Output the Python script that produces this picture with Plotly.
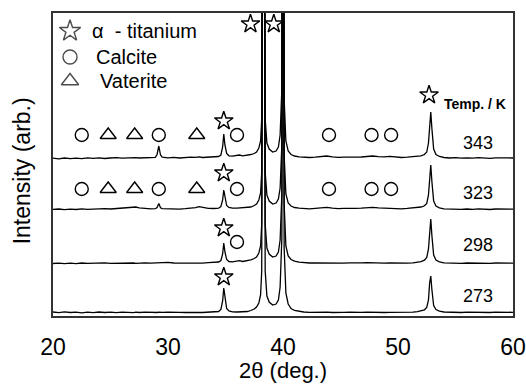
import plotly.graph_objects as go

# ---------------- data ----------------
two_theta = [
    20.0, 20.5, 21.0, 21.5, 22.0, 22.5, 23.0, 23.5, 24.0, 24.5, 25.0, 25.5, 26.0, 26.5,
    26.8, 27.0, 27.2, 27.5, 28.0, 28.5,
    28.9, 29.05, 29.2, 29.35, 29.5,
    30.0, 30.5, 31.0, 31.5, 32.0, 32.4, 32.7, 33.0, 33.5, 34.0,
    34.4, 34.6, 34.75, 34.85, 34.95, 35.1, 35.3, 35.6,
    36.0, 36.2, 36.5, 36.9, 37.2, 37.5,
    37.7, 37.9, 38.05, 38.15, 38.3, 38.45, 38.6, 38.8, 39.1, 39.4, 39.6, 39.75, 39.9, 40.0, 40.1, 40.25, 40.45, 40.7, 41.0, 41.4,
    41.8, 42.3, 42.8, 43.3, 43.8, 44.3, 44.8, 45.3, 45.8, 46.3, 46.8, 47.3, 47.8, 48.3, 48.8, 49.3, 49.8, 50.3, 50.8, 51.3, 51.7,
    52.0, 52.3, 52.5, 52.65, 52.75, 52.85, 52.95, 53.1, 53.3, 53.6, 54.0,
    54.5, 55.0, 55.5, 56.0, 56.5, 57.0, 57.5, 58.0, 58.5, 59.0, 59.5, 60.0,
]

temps = ["343", "323", "298", "273"]
offsets = [157, 106, 52, 3]

int_343 = [
    0.8, 0.2, 1.0, 0.4, 0.9, 0.3, 1.1, 0.6, 1.2, 0.5, 1.0, 1.4, 0.8, 1.2,
    1.5, 1.8, 1.3, 1.0, 1.4, 1.2,
    1.6, 4.5, 13.0, 4.0, 1.8,
    1.2, 1.6, 1.0, 1.5, 1.8, 1.6, 2.2, 1.5, 1.9, 2.2,
    2.5, 4.0, 12.0, 25.0, 14.0, 5.5, 3.2, 2.8,
    3.5, 4.0, 3.2, 3.8, 4.5, 5.5,
    7.0, 11.0, 18.0, 40.0, 800.0, 40.0, 16.0, 10.0, 7.0, 8.0, 12.0, 24.0, 70.0, 800.0, 60.0, 18.0, 8.0, 4.5, 3.0, 2.2,
    1.8, 1.5, 1.9, 2.3, 3.0, 2.2, 1.6, 1.9, 1.5, 1.8, 2.0, 2.6, 3.0, 2.4, 2.1, 2.6, 1.8, 1.5, 1.9, 2.2, 2.6,
    3.2, 4.5, 7.0, 16.0, 38.0, 47.0, 30.0, 10.0, 4.5, 2.5, 1.5,
    1.0, 1.3, 0.8, 1.2, 0.9, 1.4, 1.0, 0.7, 1.2, 0.9, 1.3, 1.0,
]

int_323 = [
    0.6, 1.0, 0.3, 0.9, 0.5, 1.2, 0.7, 1.0, 0.6, 1.3, 1.0, 1.5, 1.8, 2.2,
    2.8, 3.4, 3.0, 2.2, 1.4, 1.2,
    1.3, 2.5, 6.5, 2.2, 1.3,
    1.0, 1.4, 0.9, 1.3, 1.6, 2.4, 3.4, 2.6, 1.6, 1.5,
    1.8, 3.5, 10.0, 20.0, 12.0, 4.5, 2.5, 1.8,
    1.8, 2.0, 1.6, 2.2, 3.0, 4.5,
    6.0, 10.0, 17.0, 38.0, 800.0, 38.0, 15.0, 9.0, 6.0, 7.0, 11.0, 22.0, 65.0, 800.0, 55.0, 16.0, 7.0, 4.0, 2.5, 1.8,
    1.5, 1.2, 1.6, 1.9, 2.6, 1.9, 1.4, 1.7, 1.3, 1.6, 1.8, 2.2, 2.6, 2.1, 1.8, 2.0, 1.5, 1.2, 1.6, 1.9, 2.3,
    3.0, 4.2, 6.5, 15.0, 36.0, 45.0, 28.0, 9.0, 4.0, 2.2, 1.2,
    0.8, 1.1, 0.6, 1.0, 0.7, 1.2, 0.8, 0.5, 1.0, 0.7, 1.1, 0.8,
]

int_298 = [
    0.5, 0.9, 0.3, 0.8, 0.4, 1.0, 0.6, 0.9, 0.5, 1.1, 0.7, 0.9, 0.6, 1.0,
    0.8, 1.0, 0.7, 0.9, 1.2, 0.8,
    1.0, 0.9, 1.1, 0.8, 1.0,
    1.6, 1.0, 0.9, 1.2, 0.8, 1.0, 1.2, 0.9, 1.3, 1.6,
    2.0, 3.5, 10.0, 21.0, 12.0, 4.5, 2.5, 2.2,
    2.8, 3.4, 2.5, 3.2, 4.2, 5.5,
    7.0, 11.0, 18.0, 40.0, 800.0, 40.0, 16.0, 10.0, 7.0, 8.0, 12.0, 24.0, 70.0, 800.0, 60.0, 18.0, 8.0, 4.5, 2.8, 1.8,
    1.3, 1.0, 1.2, 1.0, 1.3, 0.9, 1.1, 0.8, 1.2, 0.9, 1.1, 1.3, 1.0, 1.2, 0.9, 1.1, 0.8, 1.0, 0.9, 1.2, 1.6,
    2.4, 3.8, 6.5, 15.0, 36.0, 45.0, 28.0, 9.0, 4.0, 2.2, 1.2,
    0.9, 1.1, 0.7, 1.0, 0.8, 1.1, 0.9, 0.6, 1.0, 0.8, 1.1, 0.9,
]

int_273 = [
    1.0, 0.3, 1.2, 0.5, 0.9, 0.2, 0.8, 0.4, 1.0, 0.5, 0.8, 0.3, 0.9, 0.5,
    0.7, 0.4, 0.8, 0.5, 0.9, 0.4,
    0.7, 0.5, 0.8, 0.4, 0.6,
    0.8, 0.4, 0.7, 0.5, 0.8, 0.4, 0.7, 0.5, 0.8, 1.0,
    1.5, 3.5, 12.0, 25.0, 14.0, 4.5, 2.0, 1.2,
    1.0, 1.2, 1.0, 1.5, 2.5, 4.0,
    6.0, 10.0, 18.0, 42.0, 800.0, 42.0, 17.0, 11.0, 8.0, 9.0, 13.0, 26.0, 75.0, 800.0, 65.0, 20.0, 9.0, 4.5, 2.5, 1.5,
    1.0, 0.7, 0.9, 0.6, 0.8, 0.5, 0.9, 0.6, 0.8, 0.5, 0.7, 0.9, 0.6, 0.8, 0.5, 0.7, 0.6, 0.8, 0.5, 0.9, 1.4,
    2.0, 3.2, 5.5, 13.0, 30.0, 37.0, 23.0, 7.5, 3.5, 1.8, 1.0,
    0.7, 0.9, 0.5, 0.8, 0.6, 0.9, 0.7, 0.5, 0.8, 0.6, 0.9, 0.7,
]

intensities = [int_343, int_323, int_298, int_273]

# phase marker positions (2theta, height in plot units)
ti_star_x = [34.85, 37.17, 39.2, 52.7, 34.85, 34.85, 34.85]
ti_star_y = [195, 292, 292, 221, 143, 88, 39]
calcite_x = [22.5, 29.2, 36.0, 44.0, 47.7, 49.4, 22.5, 29.2, 36.0, 44.0, 47.7, 49.4, 36.0]
calcite_y = [181, 181, 181, 181, 181, 181, 127, 127, 127, 127, 127, 127, 74]
vaterite_x = [24.8, 27.1, 32.5, 24.8, 27.1, 32.5]
vaterite_y = [181, 181, 181, 127, 127, 127]

legend_labels = ["α  - titanium", "Calcite", "Vaterite"]
temp_label_y = [173, 123, 71, 20]

# ---------------- figure ----------------
FONT = "Liberation Sans, Arial, sans-serif"
fig = go.Figure()

for vals, off in zip(intensities, offsets):
    fig.add_trace(go.Scatter(
        x=two_theta, y=[v + off for v in vals], mode="lines",
        line=dict(color="black", width=1.3), showlegend=False, hoverinfo="skip"))

mk_line = dict(color="black", width=1.4)
fig.add_trace(go.Scatter(x=ti_star_x, y=ti_star_y, mode="markers", showlegend=False,
                         marker=dict(symbol="star-open", size=14, color="black", line=mk_line)))
fig.add_trace(go.Scatter(x=calcite_x, y=calcite_y, mode="markers", showlegend=False,
                         marker=dict(symbol="circle-open", size=13, color="black", line=mk_line)))
fig.add_trace(go.Scatter(x=vaterite_x, y=vaterite_y, mode="markers", showlegend=False,
                         marker=dict(symbol="triangle-up-open", size=14, color="black", line=mk_line)))

# hand-made legend
leg_x = 21.48
leg_y = [285, 259, 235]
fig.add_trace(go.Scatter(x=[leg_x] * 3, y=leg_y, mode="markers", showlegend=False,
                         marker=dict(symbol=["star-open", "circle-open", "triangle-up-open"],
                                     size=[16, 14, 15], color="black", line=mk_line)))
leg_text_x = [23.2, 23.55, 23.9]
for tx, ty, lab in zip(leg_text_x, leg_y, legend_labels):
    fig.add_annotation(x=tx, y=ty, text=lab, showarrow=False, xanchor="left", yanchor="middle",
                       font=dict(family=FONT, size=20, color="black"))

fig.add_annotation(x=56.7, y=212, text="<b>Temp. / K</b>", showarrow=False,
                   xanchor="center", yanchor="middle",
                   font=dict(family=FONT, size=14, color="black"))
for t, ty in zip(temps, temp_label_y):
    fig.add_annotation(x=56.95, y=ty, text=t, showarrow=False, xanchor="center", yanchor="middle",
                       font=dict(family=FONT, size=18, color="black"))

fig.add_annotation(xref="paper", yref="paper", x=-0.067, y=0.478, text="Intensity (arb.)",
                   textangle=-90, showarrow=False, xanchor="center", yanchor="middle",
                   font=dict(family=FONT, size=23, color="black"))
fig.add_annotation(xref="paper", yref="paper", x=0.5, y=-0.228, text="2θ (deg.)",
                   showarrow=False, xanchor="center", yanchor="bottom",
                   font=dict(family=FONT, size=22, color="black"))

fig.update_layout(
    width=526, height=387,
    margin=dict(l=53, r=13, t=13, b=71, autoexpand=False),
    paper_bgcolor="white", plot_bgcolor="white",
    font=dict(family=FONT, color="black"),
)
fig.update_xaxes(range=[20, 60], tickvals=[20, 30, 40, 50, 60], ticks="", showgrid=False,
                 zeroline=False, showline=True, linecolor="#333", linewidth=1.6, mirror=True,
                 automargin=False,
                 tickfont=dict(size=23, color="black"), ticklabelstandoff=10)
fig.update_yaxes(range=[0, 303], showticklabels=False, ticks="", showgrid=False, zeroline=False,
                 automargin=False,
                 showline=True, linecolor="#333", linewidth=1.6, mirror=True)

fig.write_html("out.html", config={"displayModeBar": False},
               post_script="document.body.style.margin='0';document.body.style.overflow='hidden';")
